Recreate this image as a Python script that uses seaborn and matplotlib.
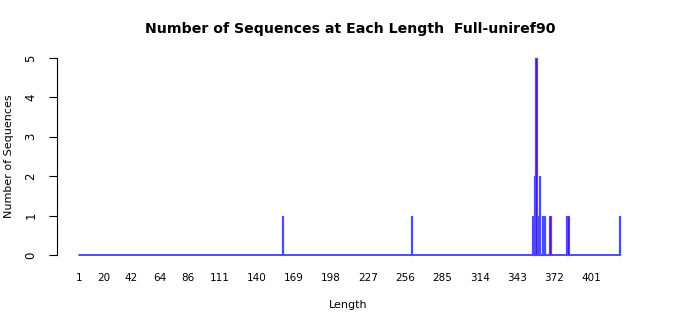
import numpy as np
import pandas as pd
import matplotlib
matplotlib.use("Agg")
import matplotlib.pyplot as plt
import seaborn as sns
from matplotlib.colors import LinearSegmentedColormap

# Data
lengths = [160, 261, 355, 357, 358, 359, 361, 363, 365, 369, 382, 383, 423]
counts = [1, 1, 1, 2, 5, 1, 2, 1, 1, 1, 1, 1, 1]
min_len, max_len = 1, 423
xtick_values = [1, 20, 42, 64, 86, 111, 140, 169, 198, 227, 256, 285, 314, 343, 372, 401]
yticks = [0, 1, 2, 3, 4, 5]
title = "Number of Sequences at Each Length  Full-uniref90"

sns.set_style("white")
plt.rcParams['font.family'] = ['DejaVu Sans']
for k in ["text.color", "axes.labelcolor", "xtick.color", "ytick.color", "axes.edgecolor"]:
    plt.rcParams[k] = "black"

all_len = np.arange(min_len, max_len + 1)
all_cnt = np.zeros_like(all_len)
for L, c in zip(lengths, counts):
    all_cnt[L - min_len] = c
df = pd.DataFrame({"Length": all_len, "Count": all_cnt})

cmap = LinearSegmentedColormap.from_list("bp", ["#1f1ff5", "#5000c8"])
pal = {L: cmap((L - min_len) / (max_len - min_len)) for L in all_len}

fig = plt.figure(figsize=(7, 3.15), dpi=100)
ax = fig.add_axes([57 / 700, 60 / 315, 583 / 700, 197 / 315])

ax.plot(df["Length"], df["Count"] * 0, color="#3030f0", lw=1.2, zorder=1, clip_on=False)
sns.barplot(data=df[df["Count"] > 0], x="Length", y="Count", hue="Length", palette=pal,
            native_scale=True, legend=False, width=0.9, ax=ax, linewidth=0.9,
            saturation=1)
for p in ax.patches:
    p.set_edgecolor("#4a4aff")
    p.set_clip_on(False)

ax.set_xlim(-16.2, 439.3)
ax.set_ylim(0, 5)
ax.set_yticks(yticks)
ax.set_yticklabels([str(v) for v in yticks], rotation=90, va="center", fontsize=8.5)
ax.set_xticks(xtick_values)
ax.set_xticklabels([str(v) for v in xtick_values], fontsize=7.5)
ax.tick_params(axis="x", length=0, pad=13)
ax.tick_params(axis="y", length=6, width=0.8, pad=8, left=True, direction="out")

for s in ["top", "right", "bottom"]:
    ax.spines[s].set_visible(False)
ax.spines["left"].set_linewidth(0.8)

ax.set_xlabel("Length", fontsize=8, labelpad=0)
ax.xaxis.set_label_coords(0.5, -(307 - 257) / 197)
ax.xaxis.label.set_va("center")
ax.set_ylabel("Number of Sequences", fontsize=8)
ax.yaxis.set_label_coords((9 - 57) / 583, 0.5)
ax.yaxis.label.set_va("center")
fig.text(350 / 700, 1 - 29 / 315, title, ha="center", va="center", fontsize=10.2, fontweight="bold")

fig.savefig("out.png", dpi=100)
